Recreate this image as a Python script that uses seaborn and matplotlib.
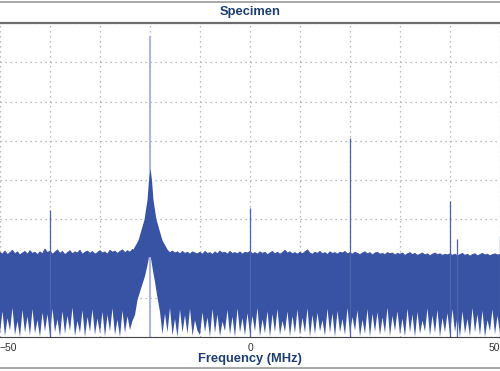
import numpy as np
import matplotlib
matplotlib.use("Agg")
import matplotlib.pyplot as plt
from matplotlib.lines import Line2D
import seaborn as sns

# frequency grid (MHz), 0.5 MHz steps
freq = np.arange(-50, 50.5, 0.5)

# top of the noise band (dB)
noise_top = [
    -78.4, -78.9, -78.1, -79.0, -78.5, -77.9, -78.8, -78.3, -79.1, -78.6, -78.2, -78.9, -78.0, -78.7, -78.4, -79.0, -78.3, -78.8, -77.6, -78.5,
    -78.1, -78.9, -78.4, -77.8, -78.7, -78.2, -79.0, -78.5, -78.0, -78.8, -78.3, -78.6, -77.9, -78.9, -78.4, -78.1, -78.7, -78.2, -78.9, -78.5,
    -78.0, -78.6, -78.3, -78.9, -77.9, -78.4, -78.1, -78.7, -78.2, -77.8, -78.5, -78.0, -78.4, -77.7, -78.2, -77.9, -78.3, -77.8, -78.0, -77.6,
    -77.5, -77.8, -78.1, -77.9, -78.3, -77.8, -78.2, -78.0, -78.5, -78.1, -78.6, -78.3, -78.8, -78.2, -78.7, -78.4, -78.9, -78.3, -78.6, -78.8,
    -78.4, -78.9, -78.2, -78.7, -78.5, -79.0, -78.3, -78.8, -78.1, -78.6, -78.4, -78.9, -78.2, -78.7, -78.5, -78.8, -78.3, -78.9, -78.4, -78.6,
    -78.2, -78.8, -78.5, -78.9, -78.3, -78.7, -78.4, -79.0, -78.6, -78.2, -78.8, -78.4, -78.9, -78.5, -77.9, -78.6, -78.3, -78.8, -78.5, -78.9,
    -78.4, -78.8, -78.3, -77.8, -78.6, -78.9, -78.4, -78.7, -78.2, -78.8, -78.5, -79.0, -78.3, -78.7, -78.5, -78.9, -78.4, -78.6, -78.2, -78.8,
    -78.5, -78.9, -78.4, -78.7, -79.0, -78.6, -78.3, -78.8, -78.5, -79.1, -78.6, -78.4, -78.9, -78.7, -79.0, -78.5, -78.8, -78.6, -79.1, -78.7,
    -78.9, -78.6, -79.2, -78.8, -78.5, -79.0, -78.7, -79.2, -78.9, -78.6, -79.1, -78.8, -79.3, -78.9, -78.6, -79.0, -78.8, -79.2, -78.9, -79.1,
    -78.8, -79.2, -78.9, -79.3, -79.0, -78.7, -79.2, -78.9, -79.4, -79.0, -78.8, -79.3, -79.0, -78.7, -79.1, -78.9, -79.3, -79.0, -78.8, -79.1,
    -79.0,
]

# bottom of the noise band (dB), the white dips
noise_bottom = [
    -99.0, -93.5, -99.8, -95.2, -98.4, -92.6, -99.5, -96.0, -100.0, -93.1, -98.9, -94.8, -99.6, -92.9, -99.1, -95.7, -100.0, -93.8, -98.6, -94.2,
    -99.7, -92.8, -98.8, -95.5, -99.9, -93.4, -99.2, -94.6, -98.5, -92.5, -99.8, -95.9, -99.0, -93.2, -100.0, -94.9, -98.7, -93.0, -99.4, -95.3,
    -99.1, -93.6, -99.9, -94.4, -98.6, -92.7, -99.5, -95.6, -100.0, -93.3, -99.0, -94.7, -98.2, -95.9, -94.4, -90.6, -88.5, -86.5, -84.5, -81.7,
    -78.3, -82.4, -86.0, -90.0, -93.6, -99.3, -94.1, -98.8, -92.6, -99.6, -95.4, -100.0, -93.0, -98.9, -94.5, -99.2, -92.8, -99.7, -95.8, -98.4,
    -99.5, -93.7, -98.7, -95.0, -100.0, -92.9, -99.0, -94.3, -99.8, -96.1, -98.5, -93.1, -99.4, -94.8, -100.0, -92.7, -98.9, -95.2, -99.6, -93.9,
    -99.2, -94.6, -98.6, -92.6, -99.9, -95.5, -99.1, -93.4, -100.0, -94.2, -98.8, -92.9, -99.5, -95.9, -98.7, -93.5, -99.8, -94.7, -99.0, -93.0,
    -99.6, -95.1, -98.9, -92.7, -100.0, -94.4, -99.3, -93.8, -98.6, -95.7, -99.7, -92.8, -99.0, -94.0, -100.0, -93.3, -98.8, -95.4, -99.5, -92.6,
    -99.1, -94.9, -98.4, -93.2, -99.9, -95.6, -99.2, -92.9, -100.0, -94.1, -98.7, -93.7, -99.6, -95.0, -99.0, -92.5, -99.8, -94.6, -98.5, -93.4,
    -99.4, -95.3, -99.9, -92.8, -98.9, -94.3, -100.0, -93.6, -99.2, -95.8, -98.6, -92.7, -99.7, -94.5, -99.0, -93.1, -100.0, -95.1, -98.8, -93.9,
    -99.5, -92.9, -98.7, -94.8, -100.0, -93.5, -99.1, -95.4, -99.8, -92.6, -98.9, -94.2, -99.6, -93.3, -100.0, -95.7, -98.5, -93.0, -99.3, -94.6,
    -99.0,
]

# skirt around the carrier at -20 MHz
skirt_freq = [-24.0, -23.5, -22.4, -21.2, -20.6, -20.3, -20.1, -20.0, -19.9, -19.7, -19.4, -18.8, -17.6, -16.5, -16.0]
skirt_top = [-78.6, -77.8, -75.3, -70.0, -65.0, -60.0, -58.0, -57.0, -58.0, -60.0, -65.0, -70.0, -75.3, -77.8, -78.6]

# discrete spurs
spur_freq = [-40.0, 0.0, 20.0, 40.0, 41.4, 49.9]
spur_level = [-67.6, -67.1, -49.3, -65.4, -75.0, -74.3]
carrier_freq = -20.0
carrier_level = -23.3

blue = "#3953a4"
navy = "#1d3f6e"

sns.set_style("white")
plt.rcParams["font.family"] = ["Liberation Sans", "DejaVu Sans"]

fig = plt.figure(figsize=(5, 3.71), dpi=100)
ax = fig.add_axes([0, 1 - 337 / 371, 1, 314 / 371])

ax.fill_between(freq, noise_bottom, noise_top, color=blue, lw=0, zorder=3)
sns.lineplot(x=freq, y=noise_top, color=blue, lw=0.6, ax=ax, zorder=3)
ax.fill_between(skirt_freq, -79.5, skirt_top, color=blue, lw=0, zorder=3)
ax.vlines(spur_freq, -100, spur_level, color="#4d63b0", lw=0.9, zorder=3)
ax.vlines([carrier_freq], -100, [carrier_level], color="#b0b6e2", lw=1.5, zorder=2.9)

ax.set_xlim(-50, 50)
ax.set_ylim(-100, -20)
xt = np.arange(-50, 51, 10)
ax.set_xticks(xt)
ax.set_xticklabels(["\u221250" if v == -50 else "0" if v == 0 else "50" if v == 50 else "" for v in xt])
ax.set_yticks(np.arange(-100, -19, 10))
ax.set_yticklabels([])
ax.tick_params(length=0, labelsize=7.5, labelcolor="#333333", pad=4)
ax.grid(True, ls=(0, (1, 3)), color="#a8a8a8", lw=0.9, zorder=1)
labels = ax.get_xticklabels()
labels[0].set_ha("left")
labels[-1].set_ha("right")

for s in ["left", "right"]:
    ax.spines[s].set_visible(False)
ax.spines["top"].set_color("#6e6e6e")
ax.spines["top"].set_linewidth(1.6)
ax.spines["bottom"].set_color("#444444")
ax.spines["bottom"].set_linewidth(0.8)

fig.text(0.5, 1 - 359 / 371, "Frequency (MHz)", ha="center", va="center",
         fontsize=9.3, fontweight="bold", color=navy)
fig.text(0.5, 1 - 12 / 371, "Specimen", ha="center", va="center",
         fontsize=9.3, fontweight="bold", color=navy)

fig.add_artist(Line2D([0, 1], [1 - 2 / 371, 1 - 2 / 371], color="#9a9a9a", lw=1.2))
fig.add_artist(Line2D([0, 1], [1 - 368 / 371, 1 - 368 / 371], color="#9a9a9a", lw=1.2))

fig.savefig("out.png", dpi=100)
